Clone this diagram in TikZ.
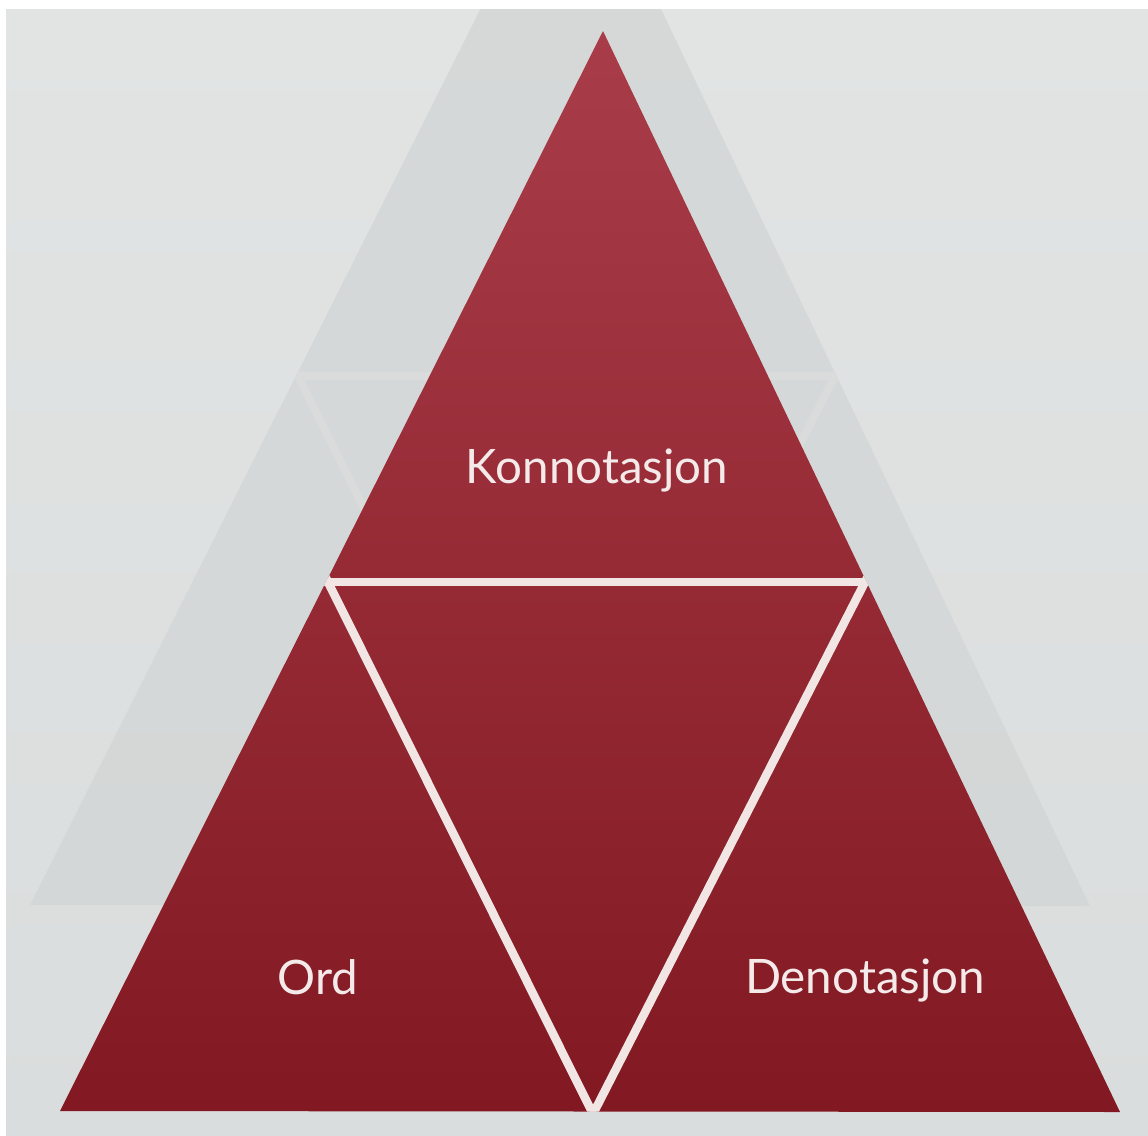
\documentclass[tikz,border=0pt]{standalone}
\usepackage{fontspec}
\setmainfont{Lato}
\definecolor{pagebg}{HTML}{DADDDD}
\definecolor{pagetop}{HTML}{E2E4E4}
\definecolor{ghost}{HTML}{D3D6D6}
\definecolor{ghostline}{HTML}{DADCDC}
\definecolor{redtop}{HTML}{A93C49}
\definecolor{redbot}{HTML}{821922}
\definecolor{gapwhite}{HTML}{F2E6E4}
\definecolor{labelwhite}{HTML}{F5EAEA}
\tikzset{
  gapline/.style={line width=8.5pt, draw=gapwhite},
  ghostgap/.style={line width=8pt, draw=ghostline},
  label/.style={text=labelwhite, anchor=base, inner sep=0pt, font=\fontsize{47.5}{52}\selectfont}
}
\begin{document}
\begin{tikzpicture}[x=1pt,y=-1pt]
\useasboundingbox (0,0) rectangle (1148,1135);
\fill[white] (0,0) rectangle (1148,1135);
\shade[top color=pagetop, bottom color=pagebg] (6,9) rectangle (1148,1135);
% main triangle corners and midpoints
\coordinate (A) at (603,31);
\coordinate (B) at (60,1111);
\coordinate (C) at (1120,1112);
\coordinate (Mab) at (328,582);
\coordinate (Mac) at (865,582);
\coordinate (Mbc) at (593,1114);
% ghost (show-through) triangle
\coordinate (gA) at (573,-175);
\coordinate (gB) at (30,905);
\coordinate (gC) at (1090,906);
\coordinate (gMab) at (298,376);
\coordinate (gMac) at (835,376);
\coordinate (gMbc) at (563,908);
\begin{scope}
\clip (6,9) rectangle (1148,1135);
\fill[ghost, opacity=0.8] (gA) -- (gB) -- (gC) -- cycle;
\begin{scope}
\clip (gA) -- (gB) -- (gC) -- cycle;
\draw[ghostgap, shorten <=-20pt, shorten >=-20pt] (gMab) -- (gMac);
\draw[ghostgap, shorten <=-20pt] (gMab) -- (gMbc);
\draw[ghostgap, shorten <=-20pt] (gMac) -- (gMbc);
\end{scope}
\end{scope}
% main red triangle
\shade[top color=redtop, bottom color=redbot] (A) -- (B) -- (C) -- cycle;
\begin{scope}
\clip (A) -- (B) -- (C) -- cycle;
\draw[gapline, shorten <=-20pt, shorten >=-20pt] (Mab) -- (Mac);
\draw[gapline, shorten <=-20pt, shorten >=-20pt] (Mab) -- (Mbc);
\draw[gapline, shorten <=-20pt, shorten >=-20pt] (Mac) -- (Mbc);
\end{scope}
% labels
\node[label] (konn) at (597,483) {Konnotasjon};
\node[label] (ord) at (318,994) {Ord};
\node[label] (deno) at (865,993) {Denotasjon};
\end{tikzpicture}
\end{document}
